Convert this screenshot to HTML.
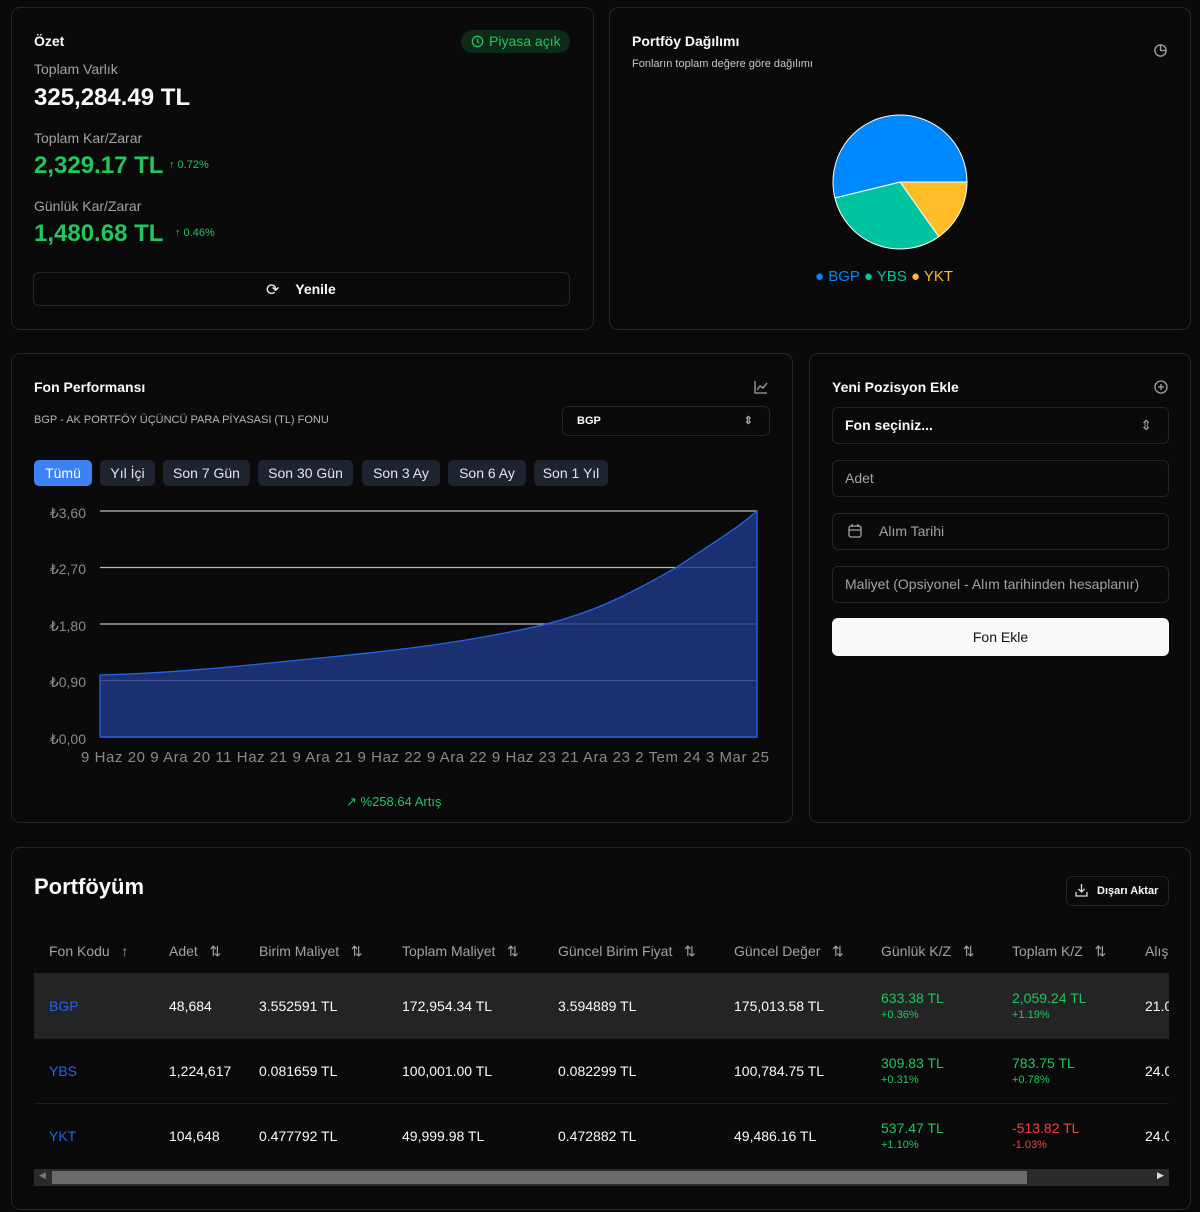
<!DOCTYPE html>
<html><head><meta charset="utf-8"><style>
*{box-sizing:border-box;margin:0;padding:0}
body{width:1200px;height:1212px;background:#0a0a0a;font-family:"Liberation Sans",sans-serif;color:#fafafa;position:relative;overflow:hidden}
.card{position:absolute;border:1px solid #262626;border-radius:9px;background:#0a0a0a}
.a{position:absolute;white-space:nowrap}
.g{color:#22c55e}
.m{color:#a3a3a3}
.btn{position:absolute;top:460px;height:26px;border-radius:5px;background:#1e2330;font-size:14px;line-height:26px;text-align:center;color:#e5e5e5}
.inp{position:absolute;left:832px;width:337px;height:37px;border:1px solid #262626;border-radius:6px;font-size:14px;line-height:35px;padding-left:12px;color:#a3a3a3}
.th{position:absolute;top:943px;font-size:14px;color:#a3a3a3}
.td{position:absolute;font-size:14px;color:#fafafa}
.k{position:absolute;font-size:14px;line-height:16px}
.k small{font-size:11px;display:block;margin-top:1px}
</style></head><body>

<div class="card" style="left:11px;top:7px;width:583px;height:323px"></div>
<div class="a" style="left:34px;top:33px;font-size:14px;font-weight:bold">Özet</div>
<div class="a" style="left:461px;top:30px;width:109px;height:23px;border-radius:12px;background:#0f2a1a;color:#22c55e;font-size:14px;line-height:23px;padding-left:28px">Piyasa açık</div>
<svg class="a" style="left:471px;top:35px" width="13" height="13" viewBox="0 0 14 14"><circle cx="7" cy="7" r="5.6" fill="none" stroke="#22c55e" stroke-width="1.4"/><path d="M7 4v3.3l2 1" fill="none" stroke="#22c55e" stroke-width="1.4"/></svg>
<div class="a m" style="left:34px;top:61px;font-size:14px">Toplam Varlık</div>
<div class="a" style="left:34px;top:84px;font-size:24px;font-weight:bold">325,284.49 TL</div>
<div class="a m" style="left:34px;top:130px;font-size:14px">Toplam Kar/Zarar</div>
<div class="a g" style="left:34px;top:152px;font-size:24px;font-weight:bold">2,329.17 TL</div>
<div class="a g" style="left:169px;top:159px;font-size:11px">↑ 0.72%</div>
<div class="a m" style="left:34px;top:198px;font-size:14px">Günlük Kar/Zarar</div>
<div class="a g" style="left:34px;top:220px;font-size:24px;font-weight:bold">1,480.68 TL</div>
<div class="a g" style="left:175px;top:227px;font-size:11px">↑ 0.46%</div>
<div class="a" style="left:33px;top:272px;width:537px;height:34px;border:1px solid #262626;border-radius:6px;font-size:14px;font-weight:bold;line-height:32px;text-align:center;padding-left:28px">Yenile</div>
<div class="a" style="left:266px;top:280px;font-size:16px">⟳</div>

<div class="card" style="left:609px;top:7px;width:582px;height:323px"></div>
<div class="a" style="left:632px;top:33px;font-size:14px;font-weight:bold">Portföy Dağılımı</div>
<div class="a m" style="left:632px;top:58px;font-size:11px;color:#c8c8c8">Fonların toplam değere göre dağılımı</div>
<svg class="a" style="left:1153px;top:43px" width="15" height="15" viewBox="0 0 16 16"><circle cx="8" cy="8" r="6" fill="none" stroke="#a3a3a3" stroke-width="1.4"/><path d="M8 2v6h6" fill="none" stroke="#a3a3a3" stroke-width="1.4"/></svg>
<svg class="a" style="left:830px;top:112px" width="140" height="140" viewBox="830 112 140 140">
<path d="M900 182 L967 182 A67 67 0 0 1 938.7 236.7Z" fill="#FFBB28" stroke="#fff" stroke-width="1"/>
<path d="M900 182 L938.7 236.7 A67 67 0 0 1 834.9 197.9Z" fill="#00C49F" stroke="#fff" stroke-width="1"/>
<path d="M900 182 L834.9 197.9 A67 67 0 1 1 967 182Z" fill="#0088FE" stroke="#fff" stroke-width="1"/>
</svg>
<div class="a" style="left:815px;top:268px;font-size:15px"><span style="color:#0088FE">● BGP</span> <span style="color:#00C49F">● YBS</span> <span style="color:#FFBB28">● YKT</span></div>

<div class="card" style="left:11px;top:353px;width:782px;height:470px"></div>
<div class="a" style="left:34px;top:379px;font-size:14px;font-weight:bold">Fon Performansı</div>
<svg class="a" style="left:754px;top:380px" width="14" height="14" viewBox="0 0 14 14"><path d="M1 1v12h12M3 10l3-4 3 2 4-5" fill="none" stroke="#a3a3a3" stroke-width="1.3"/></svg>
<div class="a m" style="left:34px;top:414px;font-size:11px;color:#b5b5b5">BGP - AK PORTFÖY ÜÇÜNCÜ PARA PİYASASI (TL) FONU</div>
<div class="a" style="left:562px;top:406px;width:208px;height:30px;border:1px solid #262626;border-radius:6px;font-size:11px;font-weight:bold;line-height:28px;padding-left:14px">BGP<span style="position:absolute;right:16px;color:#a3a3a3">⇕</span></div>
<div class="btn" style="left:34px;width:58px;background:#3b82f6;color:#fff">Tümü</div>
<div class="btn" style="left:100px;width:55px">Yıl İçi</div>
<div class="btn" style="left:163px;width:87px">Son 7 Gün</div>
<div class="btn" style="left:258px;width:95px">Son 30 Gün</div>
<div class="btn" style="left:362px;width:78px">Son 3 Ay</div>
<div class="btn" style="left:448px;width:78px">Son 6 Ay</div>
<div class="btn" style="left:534px;width:74px">Son 1 Yıl</div>
<svg class="a" style="left:0;top:0" width="800" height="830">
<g stroke="#bbb" stroke-width="1.2"><line x1="100" y1="511" x2="757" y2="511"/><line x1="100" y1="567.5" x2="757" y2="567.5"/><line x1="100" y1="624" x2="757" y2="624"/><line x1="100" y1="680.5" x2="757" y2="680.5"/><line x1="100" y1="737" x2="757" y2="737"/></g>
<path d="M100 675 C180 673 250 665 330 657 C410 649 460 642 510 632 C580 619 620 600 677 567 C710 545 735 530 757 511 L757 737 L100 737Z" fill="#1e3a8a" fill-opacity="0.8" stroke="#2563eb" stroke-width="1.3"/>
<g fill="#8a8a8a" font-size="14" font-family="Liberation Sans" text-anchor="end"><text x="86" y="518">₺3,60</text><text x="86" y="574">₺2,70</text><text x="86" y="631">₺1,80</text><text x="86" y="687">₺0,90</text><text x="86" y="744">₺0,00</text></g>
<text x="81" y="762" fill="#8a8a8a" font-size="15" font-family="Liberation Sans" textLength="688">9 Haz 20 9 Ara 20 11 Haz 21 9 Ara 21 9 Haz 22 9 Ara 22 9 Haz 23 21 Ara 23 2 Tem 24 3 Mar 25</text>
</svg>
<div class="a g" style="left:346px;top:794px;font-size:13px">↗ %258.64 Artış</div>

<div class="card" style="left:809px;top:353px;width:382px;height:470px"></div>
<div class="a" style="left:832px;top:379px;font-size:14px;font-weight:bold">Yeni Pozisyon Ekle</div>
<svg class="a" style="left:1154px;top:380px" width="14" height="14" viewBox="0 0 14 14"><circle cx="7" cy="7" r="6" fill="none" stroke="#a3a3a3" stroke-width="1.3"/><path d="M7 4v6M4 7h6" stroke="#a3a3a3" stroke-width="1.3"/></svg>
<div class="inp" style="top:407px;color:#fafafa;font-weight:bold">Fon seçiniz...<span style="position:absolute;right:16px;color:#a3a3a3;font-weight:normal">⇕</span></div>
<div class="inp" style="top:460px">Adet</div>
<div class="inp" style="top:513px;padding-left:46px">Alım Tarihi</div>
<svg class="a" style="left:848px;top:524px" width="14" height="14" viewBox="0 0 14 14"><rect x="1" y="2" width="12" height="11" rx="2" fill="none" stroke="#a3a3a3" stroke-width="1.3"/><path d="M1 6h12M4 0v3M10 0v3" stroke="#a3a3a3" stroke-width="1.3"/></svg>
<div class="inp" style="top:566px">Maliyet (Opsiyonel - Alım tarihinden hesaplanır)</div>
<div class="a" style="left:832px;top:618px;width:337px;height:38px;background:#fafafa;border-radius:6px;color:#111;font-size:14px;line-height:38px;text-align:center">Fon Ekle</div>

<div class="card" style="left:11px;top:847px;width:1180px;height:363px"></div>
<div class="a" style="left:34px;top:874px;font-size:22px;font-weight:bold">Portföyüm</div>
<div class="a" style="left:1066px;top:876px;width:103px;height:30px;border:1px solid #262626;border-radius:6px;font-size:11px;font-weight:bold;line-height:28px;padding-left:30px">Dışarı Aktar</div>
<svg class="a" style="left:1075px;top:883px" width="13" height="14" viewBox="0 0 13 14"><path d="M6.5 1v8M3.5 6l3 3 3-3M1 9v4h11V9" fill="none" stroke="#ddd" stroke-width="1.3"/></svg>
<div class="th" style="left:49px">Fon Kodu &nbsp; ↑</div>
<div class="th" style="left:169px">Adet &nbsp; ⇅</div>
<div class="th" style="left:259px">Birim Maliyet &nbsp; ⇅</div>
<div class="th" style="left:402px">Toplam Maliyet &nbsp; ⇅</div>
<div class="th" style="left:558px">Güncel Birim Fiyat &nbsp; ⇅</div>
<div class="th" style="left:734px">Güncel Değer &nbsp; ⇅</div>
<div class="th" style="left:881px">Günlük K/Z &nbsp; ⇅</div>
<div class="th" style="left:1012px">Toplam K/Z &nbsp; ⇅</div>
<div class="th" style="left:1145px">Alış</div>
<div class="a" style="left:34px;top:973px;width:1135px;height:65px;background:#242424"></div>
<div class="a" style="left:34px;top:1038px;width:1135px;height:1px;background:#1e1e1e"></div>
<div class="a" style="left:34px;top:1103px;width:1135px;height:1px;background:#1e1e1e"></div>

<div class="td" style="left:49px;top:998px;color:#2563eb">BGP</div><div class="td" style="left:169px;top:998px">48,684</div><div class="td" style="left:259px;top:998px">3.552591 TL</div><div class="td" style="left:402px;top:998px">172,954.34 TL</div><div class="td" style="left:558px;top:998px">3.594889 TL</div><div class="td" style="left:734px;top:998px">175,013.58 TL</div>
<div class="k g" style="left:881px;top:990px">633.38 TL<small>+0.36%</small></div><div class="k g" style="left:1012px;top:990px">2,059.24 TL<small>+1.19%</small></div><div class="td" style="left:1145px;top:998px;width:24px;overflow:hidden">21.0</div>

<div class="td" style="left:49px;top:1063px;color:#2563eb">YBS</div><div class="td" style="left:169px;top:1063px">1,224,617</div><div class="td" style="left:259px;top:1063px">0.081659 TL</div><div class="td" style="left:402px;top:1063px">100,001.00 TL</div><div class="td" style="left:558px;top:1063px">0.082299 TL</div><div class="td" style="left:734px;top:1063px">100,784.75 TL</div>
<div class="k g" style="left:881px;top:1055px">309.83 TL<small>+0.31%</small></div><div class="k g" style="left:1012px;top:1055px">783.75 TL<small>+0.78%</small></div><div class="td" style="left:1145px;top:1063px;width:24px;overflow:hidden">24.0</div>

<div class="td" style="left:49px;top:1128px;color:#2563eb">YKT</div><div class="td" style="left:169px;top:1128px">104,648</div><div class="td" style="left:259px;top:1128px">0.477792 TL</div><div class="td" style="left:402px;top:1128px">49,999.98 TL</div><div class="td" style="left:558px;top:1128px">0.472882 TL</div><div class="td" style="left:734px;top:1128px">49,486.16 TL</div>
<div class="k g" style="left:881px;top:1120px">537.47 TL<small>+1.10%</small></div><div class="k" style="left:1012px;top:1120px;color:#ef4444">-513.82 TL<small>-1.03%</small></div><div class="td" style="left:1145px;top:1128px;width:24px;overflow:hidden">24.0</div>

<div class="a" style="left:34px;top:1169px;width:1135px;height:17px;background:#2b2b2b"></div>
<div class="a" style="left:52px;top:1171px;width:975px;height:13px;background:#6b6b6b"></div>
<div class="a" style="left:39px;top:1170px;font-size:9px;color:#777">◀</div>
<div class="a" style="left:1157px;top:1170px;font-size:9px;color:#ddd">▶</div>
</body></html>
